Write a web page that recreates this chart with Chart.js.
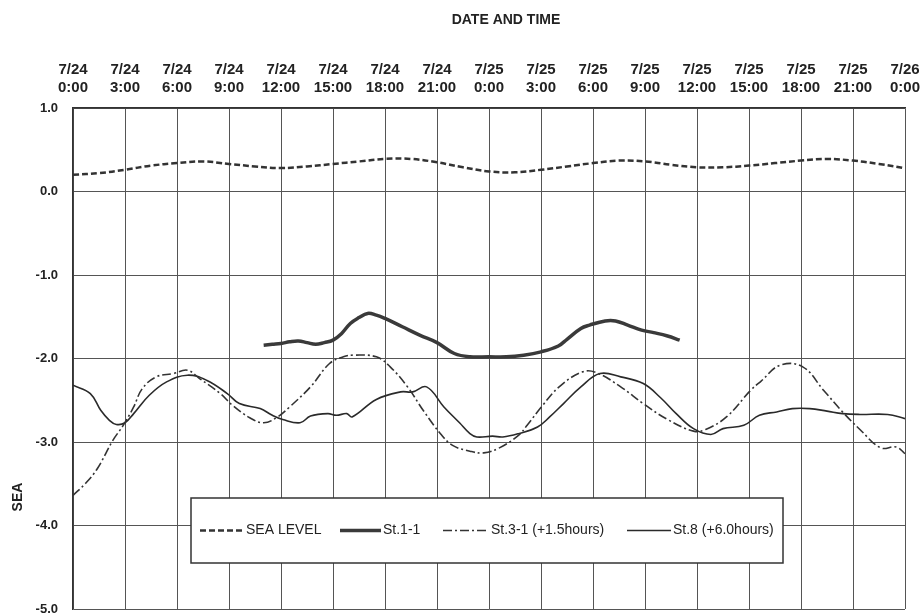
<!DOCTYPE html>
<html>
<head>
<meta charset="utf-8">
<script src="https://cdn.jsdelivr.net/npm/chart.js@4.4.1/dist/chart.umd.min.js"></script>
<style>
  html, body { margin: 0; padding: 0; background: #ffffff; }
  #wrap { width: 922px; height: 613px; position: relative; }
</style>
</head>
<body>
<div id="wrap"><canvas id="c" width="922" height="613"></canvas></div>
<script>
// ---------- DATA ----------
const xTickDates = ["7/24","7/24","7/24","7/24","7/24","7/24","7/24","7/24","7/25","7/25","7/25","7/25","7/25","7/25","7/25","7/25","7/26"];
const xTickTimes = ["0:00","3:00","6:00","9:00","12:00","15:00","18:00","21:00","0:00","3:00","6:00","9:00","12:00","15:00","18:00","21:00","0:00"];
const seriesLabels = ["SEA LEVEL", "St.1-1", "St.3-1 (+1.5hours)", "St.8 (+6.0hours)"];

const seaHours  = [0,1.5,3,4.5,6,7.5,9,10.5,12,13.5,15,16.5,18,19.5,21,22.5,24,25.5,27,28.5,30,31.5,33,34.5,36,37.5,39,40.5,42,43.5,45,46.5,48];
const seaValues = [0.20,0.22,0.26,0.31,0.34,0.36,0.33,0.30,0.28,0.30,0.33,0.36,0.39,0.39,0.35,0.29,0.24,0.23,0.26,0.30,0.34,0.37,0.36,0.32,0.29,0.29,0.31,0.34,0.37,0.39,0.37,0.33,0.28];

const st11Hours  = [11,11.5,12,12.5,13,13.5,14,14.5,15,15.5,16,16.5,17,17.5,18,19,20,21,22,22.9,24,25,26,27,28,28.5,29.3,29.8,30.7,31.3,32,32.8,33.5,34.3,35];
const st11Values = [-1.84,-1.83,-1.82,-1.80,-1.79,-1.81,-1.83,-1.81,-1.78,-1.70,-1.58,-1.51,-1.46,-1.48,-1.52,-1.62,-1.72,-1.81,-1.94,-1.98,-1.98,-1.98,-1.96,-1.92,-1.85,-1.77,-1.64,-1.60,-1.55,-1.55,-1.60,-1.66,-1.69,-1.73,-1.78];

const st31Hours  = [0,0.7,1.4,2.3,2.9,3.5,4.0,4.8,5.8,6.6,7.3,8.5,9.2,10.2,11,11.8,12.5,13.7,14.8,15.6,16.2,17.5,18.3,19.3,20.2,21.2,21.9,22.9,23.7,24.6,25.7,26.2,27.1,28.1,29.4,30.2,31.6,32.9,34.3,35.8,36.5,37.7,39.1,39.7,40.8,42.1,43.3,44.4,45.4,46.6,47.5,48];
const st31Values = [-3.64,-3.50,-3.32,-2.98,-2.80,-2.58,-2.36,-2.22,-2.18,-2.14,-2.24,-2.42,-2.56,-2.71,-2.77,-2.70,-2.58,-2.34,-2.06,-1.98,-1.96,-1.98,-2.10,-2.34,-2.62,-2.90,-3.04,-3.11,-3.13,-3.07,-2.92,-2.80,-2.56,-2.33,-2.16,-2.17,-2.34,-2.54,-2.73,-2.87,-2.85,-2.70,-2.38,-2.27,-2.08,-2.10,-2.38,-2.64,-2.85,-3.07,-3.06,-3.14];

const st8Hours  = [0,1,1.6,2.1,2.5,3,3.5,4.4,5.4,6.6,7.7,8.9,9.6,10.8,11.5,12.1,13.1,13.7,14.7,15.2,15.8,16.1,17.5,18.9,19.6,20.4,21.4,22.3,22.9,23.3,24.2,24.8,25.7,26.8,27.5,28.3,29.3,30.4,31.6,32.9,33.9,34.8,35.8,36.8,37.5,38.7,39.6,40.6,41.5,42.5,43.5,44.4,45.4,47,48];
const st8Values = [-2.32,-2.42,-2.62,-2.74,-2.79,-2.77,-2.66,-2.44,-2.28,-2.20,-2.26,-2.42,-2.54,-2.60,-2.68,-2.73,-2.77,-2.69,-2.66,-2.68,-2.66,-2.70,-2.49,-2.40,-2.40,-2.34,-2.58,-2.77,-2.90,-2.94,-2.93,-2.94,-2.90,-2.82,-2.70,-2.54,-2.34,-2.18,-2.22,-2.30,-2.47,-2.66,-2.84,-2.91,-2.84,-2.80,-2.68,-2.64,-2.60,-2.60,-2.63,-2.66,-2.67,-2.67,-2.72];

const toPoints = (xs, ys) => xs.map((x, i) => ({ x: x, y: ys[i] }));

// ---------- PLUGINS ----------
const FONT = "'Liberation Sans', Arial, sans-serif";

const extraText = {
  id: 'extraText',
  afterDraw(chart) {
    const ctx = chart.ctx;
    ctx.save();
    ctx.fillStyle = '#222';
    ctx.font = 'bold 14px ' + FONT;
    ctx.textAlign = 'center';
    ctx.textBaseline = 'middle';
    ctx.fillText('DATE AND TIME', 506, 20);
    ctx.translate(18, 497);
    ctx.rotate(-Math.PI / 2);
    ctx.fillText('SEA', 0, 0);
    ctx.restore();
  }
};

const boxLegend = {
  id: 'boxLegend',
  afterDatasetsDraw(chart) {
    const ctx = chart.ctx;
    const box = { x: 191, y: 498, w: 592, h: 65 };
    const items = [
      { sx: 200, len: 44 },
      { sx: 340, len: 41 },
      { sx: 443, len: 46 },
      { sx: 627, len: 44 }
    ];
    ctx.save();
    ctx.fillStyle = '#ffffff';
    ctx.fillRect(box.x, box.y, box.w, box.h);
    ctx.strokeStyle = '#333';
    ctx.lineWidth = 1.5;
    ctx.strokeRect(box.x, box.y, box.w, box.h);
    const cy = box.y + box.h / 2;
    chart.data.datasets.forEach((ds, i) => {
      const it = items[i];
      ctx.beginPath();
      ctx.strokeStyle = ds.borderColor;
      ctx.lineWidth = ds.borderWidth;
      ctx.setLineDash(ds.borderDash || []);
      ctx.moveTo(it.sx, cy);
      ctx.lineTo(it.sx + it.len, cy);
      ctx.stroke();
      ctx.setLineDash([]);
      ctx.fillStyle = '#222';
      ctx.font = '14px ' + FONT;
      ctx.textAlign = 'left';
      ctx.textBaseline = 'middle';
      ctx.fillText(ds.label, it.sx + it.len + 2, cy);
    });
    ctx.restore();
  }
};

// ---------- CHART ----------
const common = { fill: false, pointRadius: 0, pointHoverRadius: 0, tension: 0.4 };

new Chart(document.getElementById('c'), {
  type: 'line',
  data: {
    datasets: [
      Object.assign({ label: seriesLabels[0], data: toPoints(seaHours, seaValues),
        borderColor: '#333', borderWidth: 2.5, borderDash: [6, 3] }, common),
      Object.assign({ label: seriesLabels[1], data: toPoints(st11Hours, st11Values),
        borderColor: '#3a3a3a', borderWidth: 3.5, borderDash: [] }, common),
      Object.assign({ label: seriesLabels[2], data: toPoints(st31Hours, st31Values),
        borderColor: '#333', borderWidth: 1.6, borderDash: [9, 3, 2, 3] }, common),
      Object.assign({ label: seriesLabels[3], data: toPoints(st8Hours, st8Values),
        borderColor: '#2a2a2a', borderWidth: 1.6, borderDash: [] }, common)
    ]
  },
  options: {
    responsive: false,
    animation: false,
    layout: { padding: { top: 40, left: 0, right: 17, bottom: 4 } },
    plugins: {
      legend: { display: false },
      tooltip: { enabled: false },
      title: { display: false }
    },
    scales: {
      x: {
        type: 'linear',
        position: 'top',
        min: 0,
        max: 48,
        afterBuildTicks(scale) {
          scale.ticks = xTickDates.map((d, i) => ({ value: i * 3 }));
        },
        afterFit(scale) {
          scale.height = 68;
          scale.paddingLeft = 0;
          scale.paddingRight = 0;
        },
        ticks: {
          autoSkip: false,
          maxRotation: 0,
          padding: 12,
          color: '#222',
          font: { family: FONT, size: 15, weight: 'bold', lineHeight: 1.15 },
          callback(v) {
            const i = Math.round(v / 3);
            return [xTickDates[i], xTickTimes[i]];
          }
        },
        grid: { color: '#555', lineWidth: 1, drawTicks: false },
        border: { display: true, color: '#333', width: 1.5 }
      },
      y: {
        min: -5,
        max: 1,
        afterFit(scale) {
          scale.width = 73;
          scale.paddingTop = 0;
          scale.paddingBottom = 0;
        },
        ticks: {
          stepSize: 1,
          padding: 15,
          color: '#222',
          font: { family: FONT, size: 13, weight: 'bold' },
          callback(v) { return Number(v).toFixed(1); }
        },
        grid: { color: '#555', lineWidth: 1, drawTicks: false },
        border: { display: true, color: '#333', width: 1.5 }
      }
    }
  },
  plugins: [extraText, boxLegend]
});
</script>
</body>
</html>
